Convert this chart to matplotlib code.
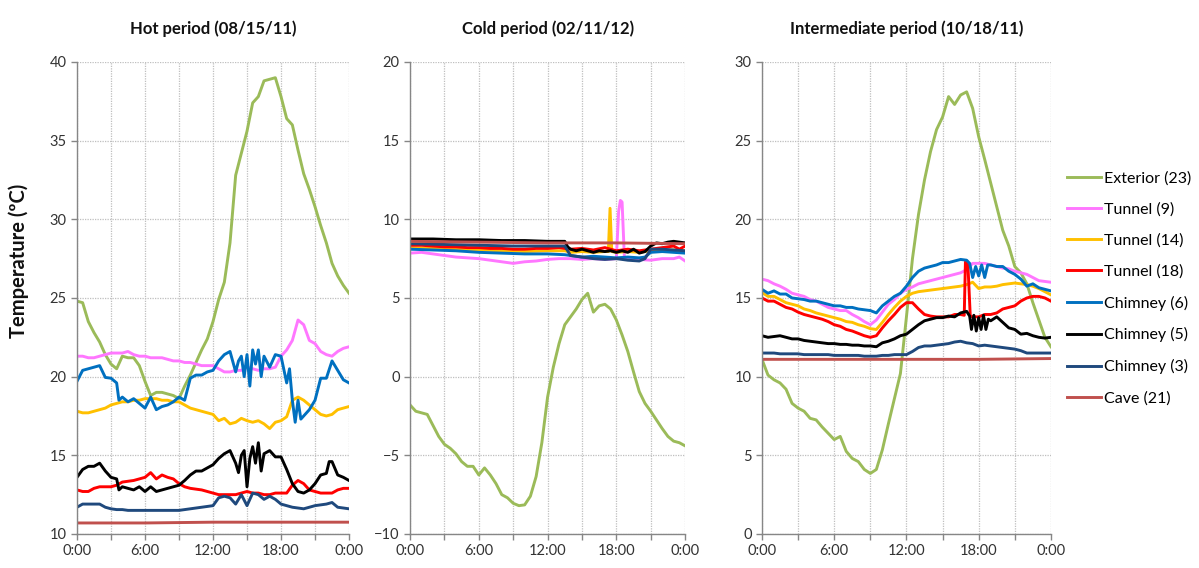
import numpy as np
import matplotlib
matplotlib.use('Agg')
import matplotlib.pyplot as plt

plt.rcParams['font.family'] = ['Lato', 'DejaVu Sans']

# legend names and colours (excel default-ish palette)
labels = ['Exterior (23)', 'Tunnel (9)', 'Tunnel (14)', 'Tunnel (18)',
          'Chimney (6)', 'Chimney (5)', 'Chimney (3)', 'Cave (21)']
colors = ['#9BBB59', '#FF77FF', '#FFC000', '#FF0000',
          '#0070C0', '#000000', '#1F497D', '#C0504D']

# half hour time grid (hours)
t_half = np.arange(0, 24.5, 0.5)

# ---------------- hot period (08/15/11) ----------------
hot_ext = [24.8, 24.7, 23.5, 22.8, 22.2, 21.4, 20.8, 20.5, 21.3, 21.2,
           21.2, 20.7, 19.7, 18.8, 19.0, 19.0, 18.9, 18.8, 18.6, 19.4,
           20.1, 20.9, 21.7, 22.4, 23.5, 24.9, 26.0, 28.5, 32.8, 34.2,
           35.6, 37.4, 37.8, 38.8, 38.9, 39.0, 37.8, 36.4, 36.0, 34.4,
           32.9, 31.9, 30.8, 29.6, 28.5, 27.2, 26.4, 25.8, 25.3]
hot_t9 = [21.3, 21.3, 21.2, 21.2, 21.3, 21.4, 21.5, 21.5, 21.5, 21.6,
          21.4, 21.3, 21.3, 21.2, 21.2, 21.2, 21.1, 21.0, 21.0, 20.9,
          20.9, 20.8, 20.7, 20.7, 20.7, 20.5, 20.3, 20.3, 20.4, 20.4,
          20.6, 20.5, 20.4, 20.5, 20.5, 20.6, 21.3, 21.7, 22.3, 23.6,
          23.3, 22.3, 22.1, 21.6, 21.4, 21.3, 21.6, 21.8, 21.9]
hot_t14 = [17.8, 17.7, 17.7, 17.8, 17.9, 18.0, 18.2, 18.3, 18.4, 18.4,
           18.5, 18.5, 18.6, 18.6, 18.6, 18.5, 18.5, 18.4, 18.4, 18.2,
           18.0, 17.9, 17.8, 17.7, 17.6, 17.2, 17.35, 17.0, 17.1, 17.35,
           17.2, 17.1, 17.2, 17.0, 16.7, 17.1, 17.2, 17.45, 18.5, 18.7,
           18.5, 18.2, 17.9, 17.6, 17.5, 17.6, 17.9, 18.0, 18.1]
hot_t18 = [12.8, 12.7, 12.7, 12.9, 13.0, 13.0, 13.0, 13.1, 13.3, 13.35,
           13.4, 13.5, 13.6, 13.9, 13.5, 13.75, 13.6, 13.5, 13.2, 13.0,
           12.9, 12.85, 12.8, 12.7, 12.6, 12.5, 12.5, 12.5, 12.5, 12.6,
           12.7, 12.6, 12.6, 12.5, 12.5, 12.6, 12.6, 12.6, 13.1, 13.4,
           13.2, 12.8, 12.7, 12.6, 12.6, 12.6, 12.8, 12.9, 12.9]
hot_ch6_t = [0, 0.5, 1, 1.5, 2, 2.5, 3, 3.5, 3.7, 4, 4.5, 5, 5.5, 6, 6.5,
             7, 7.5, 8, 8.5, 9, 9.5, 10, 10.5, 11, 11.5, 12, 12.5, 13, 13.5,
             14, 14.25, 14.5, 14.75, 15, 15.25, 15.5, 15.75, 16, 16.25,
             16.5, 17, 17.5, 18, 18.5, 18.75, 19, 19.25, 19.5, 19.75,
             20, 20.5, 21, 21.5, 22, 22.5, 23, 23.5, 24]
hot_ch6 = [19.7, 20.4, 20.5, 20.6, 20.7, 19.95, 19.9, 19.6, 18.5,
           18.7, 18.4, 18.6, 18.3, 18.0, 18.7, 17.9, 18.1, 18.2, 18.4,
           18.7, 18.5, 19.9, 20.1, 20.1, 20.3, 20.4, 21.0, 21.4, 21.6,
           20.3, 21.0, 21.3, 20.0, 21.4, 19.4, 21.7, 20.8, 21.7, 20.0,
           21.3, 20.6, 21.4, 21.3, 19.6, 20.5, 18.5, 17.1, 18.5, 17.3,
           17.5, 17.9, 18.5, 19.9, 19.9, 21.0, 20.4, 19.8, 19.6]
hot_ch5_t = [0, 0.5, 1, 1.5, 2, 2.5, 3, 3.5, 3.7, 4, 4.5, 5, 5.5, 6, 6.5,
             7, 7.5, 8, 8.5, 9, 9.5, 10, 10.5, 11, 11.5, 12, 12.5, 13, 13.5,
             14, 14.25, 14.5, 14.75, 15, 15.25, 15.5, 15.75, 16, 16.25,
             16.5, 17, 17.5, 18, 18.5, 19, 19.5, 20, 20.5, 21,
             21.5, 22, 22.25, 22.5, 23, 23.5, 24]
hot_ch5 = [13.6, 14.1, 14.3, 14.3, 14.5, 14.0, 13.6, 13.5, 12.8,
           13.0, 12.9, 12.8, 13.0, 12.7, 13.0, 12.7, 12.8, 12.9, 13.0,
           13.1, 13.4, 13.75, 14.0, 14.0, 14.2, 14.4, 14.8, 15.1, 15.3,
           14.5, 13.9, 15.0, 15.3, 13.0, 14.8, 15.55, 14.5, 15.8, 14.0,
           15.1, 15.3, 14.9, 14.9, 14.1, 13.2, 12.7, 12.6, 12.8, 13.2,
           13.75, 13.85, 14.6, 14.6, 13.75, 13.6, 13.4]
hot_ch3 = [11.7, 11.9, 11.9, 11.9, 11.9, 11.7, 11.6, 11.55, 11.55, 11.5,
           11.5, 11.5, 11.5, 11.5, 11.5, 11.5, 11.5, 11.5, 11.5, 11.55,
           11.6, 11.65, 11.7, 11.75, 11.8, 12.3, 12.4, 12.3, 11.9, 12.5,
           11.8, 12.6, 12.5, 12.2, 12.4, 12.2, 11.9, 11.8, 11.7, 11.65,
           11.6, 11.7, 11.8, 11.85, 11.9, 12.0, 11.7, 11.65, 11.6]
cave_t = [0, 6, 12, 18, 24]
hot_cave = [10.7, 10.7, 10.75, 10.75, 10.75]

# ---------------- cold period (02/11/12) ----------------
cold_ext = [-1.8, -2.2, -2.3, -2.4, -3.1, -3.8, -4.3, -4.55, -4.9, -5.4,
            -5.7, -5.7, -6.25, -5.8, -6.25, -6.8, -7.5, -7.7, -8.05, -8.2,
            -8.15, -7.6, -6.35, -4.2, -1.3, 0.6, 2.1, 3.3, 3.8, 4.3,
            4.9, 5.3, 4.1, 4.5, 4.6, 4.3, 3.6, 2.65, 1.6, 0.3,
            -0.95, -1.7, -2.2, -2.75, -3.3, -3.8, -4.1, -4.2, -4.4]
cold_t9_t = [0, 1, 2, 3, 4, 5, 6, 7, 8, 9, 10, 11, 12, 13, 14, 15, 16, 17, 18,
             18.2, 18.35, 18.5, 18.7, 19, 20, 21, 22, 23, 23.5, 24]
cold_t9 = [7.85, 7.9, 7.8, 7.7, 7.6, 7.55, 7.5, 7.4, 7.3, 7.2, 7.3, 7.35,
           7.45, 7.5, 7.5, 7.45, 7.5, 7.45, 7.5,
           10.5, 11.2, 11.1, 7.6, 7.5, 7.45, 7.4, 7.5, 7.5, 7.6, 7.35]
cold_t14_t = [0, 2, 4, 6, 8, 10, 12, 13.5, 14, 15, 16, 17, 17.3, 17.45, 17.6,
              18, 19, 20, 21, 22, 23, 24]
cold_t14 = [8.2, 8.15, 8.1, 8.05, 8.0, 7.95, 8.0, 8.0, 7.9, 7.95,
            7.9, 7.95, 7.95, 10.7, 7.95, 7.9, 7.95, 7.9, 8.0, 8.0, 8.05, 8.0]
cold_t18_t = [0, 1, 2, 3, 4, 5, 6, 7, 8, 9, 10, 11, 12, 13, 13.5, 14, 15, 16,
              17, 18, 19, 20, 21, 22, 23, 23.5, 24]
cold_t18 = [8.35, 8.35, 8.3, 8.25, 8.25, 8.2, 8.2, 8.15, 8.15, 8.1,
            8.1, 8.15, 8.15, 8.2, 8.15, 8.1, 8.15, 8.05, 8.2, 8.0,
            8.1, 8.0, 8.1, 8.2, 8.3, 8.1, 8.3]
cold_ch6_t = [0, 2, 4, 6, 8, 10, 12, 13.5, 14, 15, 16, 17, 18, 19, 20, 20.5,
              21, 22, 23, 24]
cold_ch6 = [8.1, 8.05, 8.0, 7.9, 7.85, 7.8, 7.8, 7.75, 7.7, 7.6,
            7.65, 7.6, 7.55, 7.6, 7.55, 7.6, 7.9, 7.95, 7.9, 7.85]
cold_ch5_t = [0, 2, 4, 6, 8, 10, 12, 13.5, 13.75, 14, 14.5, 15, 15.5, 16,
              16.5, 17, 17.5, 18, 18.5, 19, 19.5, 20, 20.5, 21, 21.5, 22,
              22.5, 23, 23.5, 24]
cold_ch5 = [8.75, 8.75, 8.7, 8.7, 8.65, 8.65, 8.6, 8.6, 8.25, 8.1,
            8.0, 8.1, 8.0, 7.9, 8.0, 7.95, 8.0, 7.9, 8.0, 7.9,
            8.1, 7.85, 7.95, 8.3, 8.5, 8.45, 8.55, 8.6, 8.55, 8.5]
cold_ch3_t = [0, 3, 6, 9, 12, 13.5, 14, 15, 16, 17, 18, 19, 20, 20.5, 21,
              22, 23, 24]
cold_ch3 = [8.45, 8.4, 8.35, 8.3, 8.3, 8.3, 7.7, 7.6, 7.5, 7.45,
            7.5, 7.4, 7.35, 7.5, 8.1, 8.1, 8.05, 8.0]
cold_cave = [8.6, 8.55, 8.5, 8.5, 8.45]

# ---------------- intermediate period (10/18/11) ----------------
int_ext = [11.1, 10.1, 9.8, 9.6, 9.2, 8.3, 8.0, 7.8, 7.35, 7.25,
           6.8, 6.4, 6.0, 6.2, 5.25, 4.8, 4.6, 4.1, 3.85, 4.1,
           5.35, 7.0, 8.6, 10.2, 13.8, 17.5, 20.3, 22.5, 24.3, 25.7,
           26.5, 27.8, 27.3, 27.9, 28.1, 27.05, 25.25, 23.8, 22.3, 20.8,
           19.3, 18.3, 17.0, 16.6, 15.9, 14.7, 13.6, 12.5, 11.9]
int_t9 = [16.2, 16.1, 15.9, 15.75, 15.55, 15.3, 15.2, 15.1, 14.9, 14.8,
          14.6, 14.4, 14.3, 14.2, 14.2, 13.95, 13.75, 13.5, 13.3, 13.6,
          14.1, 14.6, 14.9, 15.3, 15.55, 15.7, 15.9, 16.0, 16.1, 16.2,
          16.3, 16.4, 16.5, 16.6, 16.8, 17.2, 17.2, 17.2, 17.1, 17.0,
          16.9, 16.85, 16.7, 16.6, 16.5, 16.3, 16.1, 16.05, 16.0]
int_t14 = [15.35, 15.1, 15.1, 14.9, 14.7, 14.6, 14.5, 14.3, 14.2, 14.05,
           13.95, 13.85, 13.75, 13.65, 13.5, 13.45, 13.3, 13.2, 13.05, 13.0,
           13.45, 13.95, 14.4, 14.8, 15.1, 15.3, 15.4, 15.45, 15.5, 15.55,
           15.6, 15.65, 15.7, 15.75, 15.85, 16.0, 15.6, 15.7, 15.7, 15.75,
           15.85, 15.9, 15.95, 15.9, 15.85, 15.75, 15.6, 15.4, 15.2]
int_t18_t = [0, 0.5, 1, 1.5, 2, 2.5, 3, 3.5, 4, 4.5, 5, 5.5, 6, 6.5, 7, 7.5,
             8, 8.5, 9, 9.5, 10, 10.5, 11, 11.5, 12, 12.5, 13, 13.5, 14, 14.5,
             15, 15.5, 16, 16.5, 16.8, 16.9, 17.1, 17.3, 17.5, 18, 18.5, 19,
             19.5, 20, 20.5, 21, 21.5, 22, 22.5, 23, 23.5, 24]
int_t18 = [15.0, 14.8, 14.8, 14.6, 14.4, 14.3, 14.1, 13.95, 13.85, 13.75,
           13.65, 13.5, 13.3, 13.2, 13.0, 12.9, 12.75, 12.6, 12.5, 12.6,
           13.1, 13.55, 13.95, 14.4, 14.7, 14.7, 14.3, 13.95, 13.85, 13.8,
           13.8, 13.8, 13.95, 13.95, 13.9, 17.3, 17.2, 13.85, 13.8, 13.8,
           13.95, 13.95, 14.05, 14.3, 14.4, 14.5, 14.8, 15.0, 15.1, 15.1,
           15.0, 14.8]
int_ch6_t = [0, 0.5, 1, 1.5, 2, 2.5, 3, 3.5, 4, 4.5, 5, 5.5, 6, 6.5, 7, 7.5,
             8, 8.5, 9, 9.5, 10, 10.5, 11, 11.5, 12, 12.5, 13, 13.5, 14, 14.5,
             15, 15.5, 16, 16.5, 17, 17.25, 17.5, 17.75, 18, 18.25, 18.5,
             18.75, 19, 19.5, 20, 20.5, 21, 21.5, 22, 22.5, 23, 23.5, 24]
int_ch6 = [15.55, 15.3, 15.45, 15.25, 15.25, 15.0, 14.95, 14.9, 14.8, 14.8,
           14.7, 14.6, 14.5, 14.5, 14.4, 14.4, 14.3, 14.25, 14.2, 14.05,
           14.5, 14.8, 15.1, 15.3, 15.75, 16.3, 16.7, 16.9, 17.0, 17.1,
           17.25, 17.25, 17.35, 17.45, 17.4, 17.2, 16.3, 17.0, 16.4, 17.1,
           16.3, 17.1, 17.1, 17.0, 17.0, 16.7, 16.5, 16.2, 15.75, 15.9,
           15.65, 15.55, 15.45]
int_ch5_t = [0, 0.5, 1, 1.5, 2, 2.5, 3, 3.5, 4, 4.5, 5, 5.5, 6, 6.5, 7, 7.5,
             8, 8.5, 9, 9.5, 10, 10.5, 11, 11.5, 12, 12.5, 13, 13.5, 14, 14.5,
             15, 15.5, 16, 16.5, 17, 17.25, 17.4, 17.6, 17.8, 18, 18.2, 18.4,
             18.6, 18.8, 19, 19.5, 20, 20.5, 21, 21.5, 22, 22.5, 23, 23.5, 24]
int_ch5 = [12.6, 12.5, 12.55, 12.6, 12.5, 12.4, 12.4, 12.3, 12.25, 12.2,
           12.15, 12.1, 12.1, 12.05, 12.05, 12.0, 12.0, 11.95, 11.95, 11.9,
           12.15, 12.25, 12.4, 12.6, 12.7, 13.0, 13.3, 13.55, 13.65, 13.75,
           13.75, 13.85, 13.8, 14.05, 14.15, 13.85, 13.0, 13.9, 12.9, 13.75,
           13.0, 13.9, 13.0, 13.65, 13.55, 13.8, 13.45, 13.1, 13.0, 12.7,
           12.75, 12.6, 12.5, 12.45, 12.5]
int_ch3 = [11.5, 11.5, 11.5, 11.45, 11.45, 11.45, 11.45, 11.4, 11.4, 11.4,
           11.4, 11.4, 11.35, 11.35, 11.35, 11.35, 11.35, 11.3, 11.3, 11.3,
           11.35, 11.35, 11.4, 11.4, 11.4, 11.6, 11.85, 11.95, 11.95, 12.0,
           12.05, 12.1, 12.2, 12.25, 12.15, 12.1, 11.95, 12.0, 11.95, 11.9,
           11.85, 11.8, 11.75, 11.65, 11.5, 11.5, 11.5, 11.5, 11.5]
int_cave = [11.1, 11.1, 11.1, 11.1, 11.15]

# axes position in figure fractions [left, bottom, width, height]
panels = [
    ('Hot period (08/15/11)', [0.0642, 0.0599, 0.2269, 0.8310], (10, 40), [
        (t_half, hot_ext), (t_half, hot_t9), (t_half, hot_t14),
        (t_half, hot_t18), (hot_ch6_t, hot_ch6), (hot_ch5_t, hot_ch5),
        (t_half, hot_ch3), (cave_t, hot_cave)]),
    ('Cold period (02/11/12)', [0.3420, 0.0599, 0.2294, 0.8310], (-10, 20), [
        (t_half, cold_ext), (cold_t9_t, cold_t9), (cold_t14_t, cold_t14),
        (cold_t18_t, cold_t18), (cold_ch6_t, cold_ch6), (cold_ch5_t, cold_ch5),
        (cold_ch3_t, cold_ch3), (cave_t, cold_cave)]),
    ('Intermediate period (10/18/11)', [0.6355, 0.0599, 0.2410, 0.8310], (0, 30), [
        (t_half, int_ext), (t_half, int_t9), (t_half, int_t14),
        (int_t18_t, int_t18), (int_ch6_t, int_ch6), (int_ch5_t, int_ch5),
        (t_half, int_ch3), (cave_t, int_cave)]),
]

fig = plt.figure(figsize=(11.99, 5.68), dpi=100)

handles = []
for title, pos, ylim, series in panels:
    ax = fig.add_axes(pos)
    for (tt, vv), c, lab in zip(series, colors, labels):
        ln, = ax.plot(tt, vv, color=c, lw=2.1, label=lab, solid_joinstyle='round')
        if len(handles) < len(labels):
            handles.append(ln)
    ax.set_xlim(0, 24)
    ax.set_ylim(*ylim)
    ax.set_xticks(np.arange(0, 25, 3))
    ax.set_xticklabels(['0:00', '', '6:00', '', '12:00', '', '18:00', '', '0:00'])
    ax.set_yticks(np.arange(ylim[0], ylim[1] + 1, 5))
    ax.grid(True, color='#BFBFBF', linestyle=(0, (1, 1)), lw=0.9)
    ax.set_axisbelow(True)
    for s in ['top', 'right']:
        ax.spines[s].set_visible(False)
    for s in ['left', 'bottom']:
        ax.spines[s].set_color('#868686')
        ax.spines[s].set_linewidth(1.0)
    ax.tick_params(colors='#868686', length=4, width=1, labelcolor='#333333',
                   labelsize=10.5)
    ax.set_title(title, fontsize=12, fontweight='bold', pad=20, color='#111111')

fig.text(0.016, 0.54, 'Temperature (ºC)', rotation=90, va='center', ha='center',
         fontsize=14.5, fontweight='bold', color='#111111')

fig.legend(handles=handles, labels=labels, loc='upper left',
           bbox_to_anchor=(0.878, 0.724), frameon=False, fontsize=11.5,
           handlelength=2.1, handletextpad=0.2, labelspacing=1.05)

fig.savefig('out.png', dpi=100)
